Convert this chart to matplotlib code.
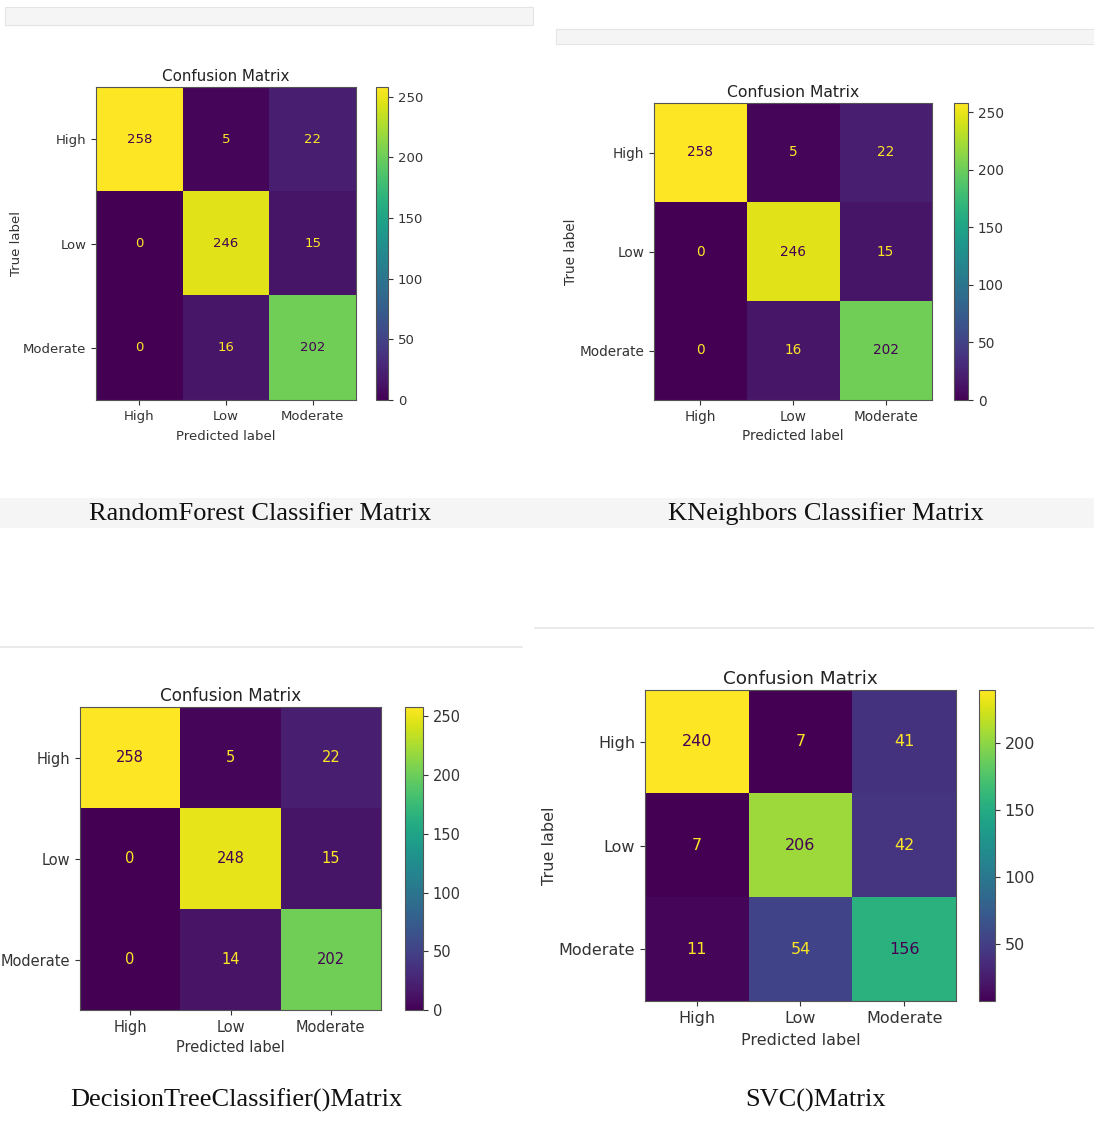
import numpy as np
import matplotlib
matplotlib.use("Agg")
import matplotlib.pyplot as plt
from matplotlib.patches import Rectangle
from matplotlib.lines import Line2D

W, H = 1094, 1121

class_labels = ["High", "Low", "Moderate"]

rf_cm = [[258, 5, 22], [0, 246, 15], [0, 16, 202]]
knn_cm = [[258, 5, 22], [0, 246, 15], [0, 16, 202]]
dt_cm = [[258, 5, 22], [0, 248, 15], [0, 14, 202]]
svc_cm = [[240, 7, 41], [7, 206, 42], [11, 54, 156]]

captions = ["RandomForest Classifier Matrix", "KNeighbors Classifier Matrix",
            "DecisionTreeClassifier()Matrix", "SVC()Matrix"]


def px(x0, y0, x1, y1):
    # pixel box (top-left origin) -> figure fraction rect
    return [x0 / W, 1 - y1 / H, (x1 - x0) / W, (y1 - y0) / H]


def draw_panel(fig, heat_box, cbar_box, cm, fs, xpad=2, ypad=4, show_ylabel=True):
    cm = np.array(cm)
    ax = fig.add_axes(px(*heat_box))
    cax = fig.add_axes(px(*cbar_box))
    cmap = plt.get_cmap("viridis")
    im = ax.imshow(cm, cmap=cmap, aspect="auto", vmin=cm.min(), vmax=cm.max())
    thresh = (cm.max() + cm.min()) / 2.0
    for i in range(cm.shape[0]):
        for j in range(cm.shape[1]):
            color = cmap(0) if cm[i, j] >= thresh else cmap(1.0)
            ax.text(j, i, str(cm[i, j]), ha="center", va="center",
                    color=color, fontsize=fs)
    ax.set_xticks(range(3))
    ax.set_yticks(range(3))
    ax.set_xticklabels(class_labels)
    ax.set_yticklabels(class_labels)
    ax.tick_params(labelsize=fs, colors="#333333", labelcolor="#333333")
    ax.set_xlabel("Predicted label", fontsize=fs, color="#333333", labelpad=xpad)
    if show_ylabel:
        ax.set_ylabel("True label", fontsize=fs, color="#333333", labelpad=ypad)
    ax.set_title("Confusion Matrix", fontsize=fs * 1.15, color="#222222", pad=4)
    for s in ax.spines.values():
        s.set_color("#555555")
    cb = fig.colorbar(im, cax=cax)
    cb.ax.tick_params(labelsize=fs, colors="#333333", labelcolor="#333333")
    cb.outline.set_edgecolor("#555555")
    return ax


fig = plt.figure(figsize=(W / 100, H / 100), dpi=100)
fig.patch.set_facecolor("white")

# screenshot chrome: grey strips and separator lines
fig.patches.append(Rectangle((5 / W, 1 - 25 / H), 528 / W, 18 / H, transform=fig.transFigure,
                             facecolor="#f5f5f5", edgecolor="#e4e4e4", lw=0.8))
fig.patches.append(Rectangle((556 / W, 1 - 44 / H), 538 / W, 15 / H, transform=fig.transFigure,
                             facecolor="#f5f5f5", edgecolor="#e4e4e4", lw=0.8))
fig.patches.append(Rectangle((0, 1 - 528 / H), 1, 30 / H, transform=fig.transFigure,
                             facecolor="#f5f5f5", edgecolor="none"))
fig.lines.append(Line2D([0, 522 / W], [1 - 647 / H] * 2, transform=fig.transFigure,
                        color="#e6e6e6", lw=1.2))
fig.lines.append(Line2D([535 / W, 1], [1 - 628 / H] * 2, transform=fig.transFigure,
                        color="#e6e6e6", lw=1.2))

draw_panel(fig, (96, 87, 356, 400), (376, 87, 388, 400), rf_cm, 9.5, xpad=5, ypad=0)
draw_panel(fig, (654, 103, 932, 400), (954, 103, 968, 400), knn_cm, 9.8, xpad=4, ypad=1)
draw_panel(fig, (80, 707, 381, 1010), (405, 707, 423, 1010), dt_cm, 10.5, xpad=3.5,
           show_ylabel=False)
draw_panel(fig, (645, 690, 956, 1001), (979, 690, 995, 1001), svc_cm, 11.5, xpad=5, ypad=1)

cap_pos = [(260, 514), (826, 514), (236, 1100), (816, 1100)]
for (cx, cy), txt in zip(cap_pos, captions):
    fig.text(cx / W, 1 - cy / H, txt, ha="center", va="center",
             fontsize=19, family="Liberation Serif", color="#111111")

fig.savefig("out.png", dpi=100)
